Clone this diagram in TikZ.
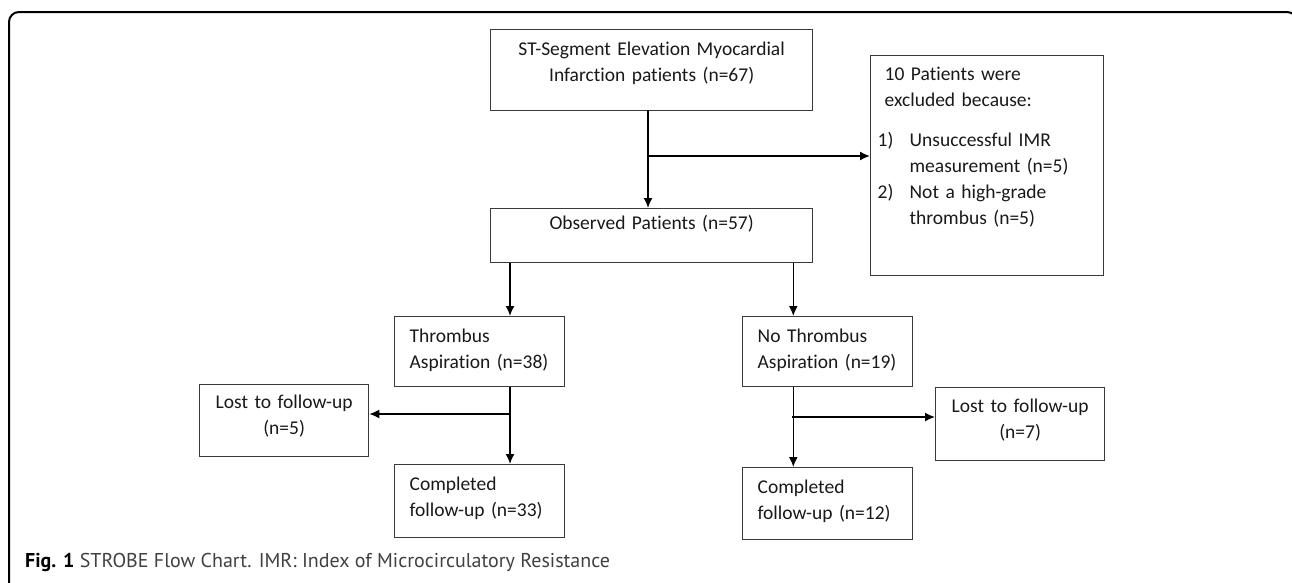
\documentclass[tikz,border=0pt]{standalone}
\usepackage{fontspec}
\usetikzlibrary{arrows.meta}
\setmainfont{Carlito}[Ligatures=NoCommon]
\newfontfamily\capfont{PT Sans}
\definecolor{boxline}{HTML}{3A3A3A}
\definecolor{captext}{HTML}{404040}
\tikzset{
  box/.style={draw=boxline, line width=1.3pt, inner ysep=0pt, inner xsep=15pt, anchor=north west,
    text=black!90, font=\fontsize{19.5}{26}\selectfont},
  arr/.style={-{Latex[length=10pt,width=9pt]}, line width=1.6pt},
}
\begin{document}
\begin{tikzpicture}[x=1pt,y=-1pt]
\useasboundingbox (0,0) rectangle (1292,582);
\clip (0,0) rectangle (1292,582);
\draw [line width=2pt, rounded corners=10pt] (9,600) -- (9,12) -- (1297,12) -- (1297,600);

% boxes
\node [box, align=center, text width=292pt, text height=26pt, text depth=55pt] (stemi) at (490,29)
  {ST-Segment Elevation Myocardial\\Infarction patients (n=67)};
\node [box, align=center, text width=292pt, text height=21pt, text depth=33pt] (observed) at (490,208)
  {Observed Patients (n=57)};
\node [box, align=left, inner xsep=14pt, text width=205pt, text height=25pt, text depth=195pt] (excluded) at (870,55)
  {10 Patients were\\
   excluded because:\\[14pt]
   \hspace*{-7pt}\makebox[32pt][l]{1)}Unsuccessful IMR\\
   \hspace*{25pt}measurement (n=5)\\
   \hspace*{-7pt}\makebox[32pt][l]{2)}Not a high-grade\\
   \hspace*{25pt}thrombus (n=5)};
\node [box, align=left, text width=140pt, text height=25.5pt, text depth=44.5pt] (thrombus) at (394,316)
  {Thrombus\\Aspiration (n=38)};
\node [box, align=left, text width=140pt, text height=25.5pt, text depth=44.5pt] (nothrombus) at (742,316)
  {No Thrombus\\Aspiration (n=19)};
\node [box, align=center, text width=139pt, text height=24pt, text depth=48pt] (lostA) at (199,384)
  {Lost to follow-up\\(n=5)};
\node [box, align=center, text width=139pt, text height=25pt, text depth=48pt] (lostB) at (935,387)
  {Lost to follow-up\\(n=7)};
\node [box, align=left, text width=140pt, text height=26pt, text depth=47pt] (doneA) at (394,464)
  {Completed\\follow-up (n=33)};
\node [box, align=left, text width=140pt, text height=26pt, text depth=46pt] (doneB) at (742,467)
  {Completed\\follow-up (n=12)};

% arrows
\coordinate (s1) at (648,110);
\coordinate (s2) at (648,156);
\draw [arr] (s1) -- (s1 |- observed.north);
\draw [arr] (s2) -- (s2 -| excluded.west);
\coordinate (ta) at ([xshift=20pt]observed.south west);
\coordinate (na) at ([xshift=-20pt]observed.south east);
\draw [arr] (ta) -- (ta |- thrombus.north);
\draw [arr] (na) -- (na |- nothrombus.north);
\coordinate (tb) at (510,414);
\coordinate (nb) at (792,417);
\draw [arr] (ta |- thrombus.south) -- (ta |- doneA.north);
\draw [arr] (tb) -- (tb -| lostA.east);
\draw [arr] (na |- nothrombus.south) -- (na |- doneB.north);
\draw [arr] (nb) -- (nb -| lostB.west);

\node [anchor=base west, inner sep=0pt, text=captext, font=\capfont\fontsize{20}{24}\selectfont] (caption) at (25,567)
  {\textcolor{black}{\textbf{Fig. 1}} STROBE Flow Chart. IMR: Index of Microcirculatory Resistance};
\end{tikzpicture}
\end{document}
